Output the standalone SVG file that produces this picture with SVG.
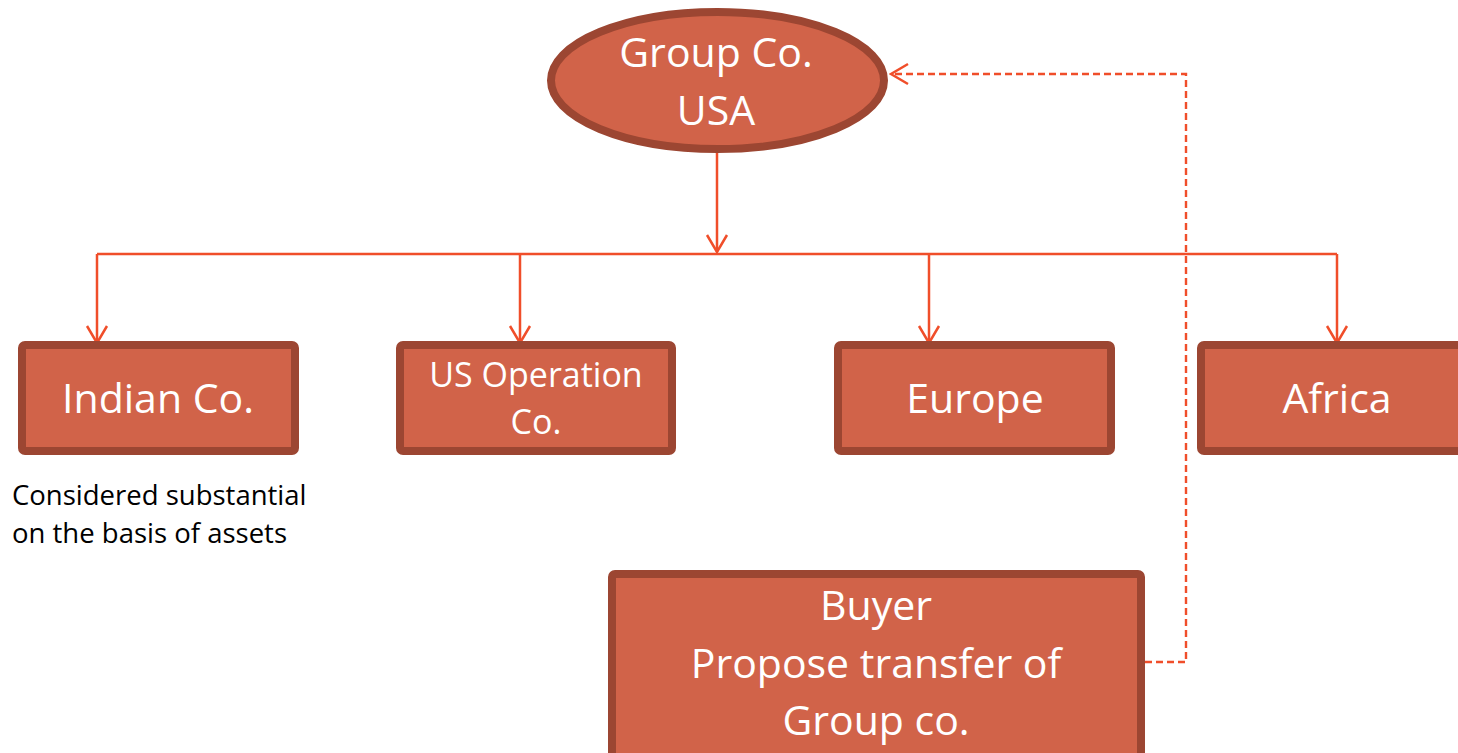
<svg xmlns="http://www.w3.org/2000/svg" width="1458" height="753" viewBox="0 0 1458 753">
<style>
.box{fill:#D16349;stroke:#9C4632;stroke-width:8}
.lbl{font-family:"Open Sans",sans-serif;fill:#fff;text-anchor:middle}
.con{fill:none;stroke:#F04E2A;stroke-width:2.5}
.dash{fill:none;stroke:#F04E2A;stroke-width:2.4;stroke-dasharray:7 4}
.note{font-family:"Open Sans",sans-serif;fill:#000;font-size:27.5px}
</style>
<defs>
<marker id="arr" markerUnits="userSpaceOnUse" viewBox="-20 -12 22 24" markerWidth="22" markerHeight="24" refX="0" refY="0" orient="auto">
<path d="M-17,-10 L0,0 L-17,10" fill="none" stroke="#F04E2A" stroke-width="2.5"/>
</marker>
</defs>
<rect width="1458" height="753" fill="#fff"/>
<g id="connectors">
<path class="con" d="M717,153 V252" marker-end="url(#arr)"/>
<path class="con" d="M97,254 H1337"/>
<path class="con" d="M97,254 V343" marker-end="url(#arr)"/>
<path class="con" d="M520,254 V343" marker-end="url(#arr)"/>
<path class="con" d="M929,254 V343" marker-end="url(#arr)"/>
<path class="con" d="M1337,254 V343" marker-end="url(#arr)"/>
<path class="dash" d="M1145,662 H1186 V74 H891" marker-end="url(#arr)"/>
</g>
<g id="group-co">
<ellipse class="box" cx="717.5" cy="80.5" rx="166.5" ry="68.5"/>
<text class="lbl" font-size="41" x="716" y="67">Group Co.</text>
<text class="lbl" font-size="41" x="716" y="125">USA</text>
</g>
<g id="indian-co">
<rect class="box" x="22" y="345" width="273" height="106" rx="3"/>
<text class="lbl" font-size="41" x="158" y="413">Indian Co.</text>
</g>
<g id="us-operation">
<rect class="box" x="400" y="345" width="272" height="106" rx="3"/>
<text class="lbl" font-size="34" x="536" y="387">US Operation</text>
<text class="lbl" font-size="34" x="536" y="434">Co.</text>
</g>
<g id="europe">
<rect class="box" x="838" y="345" width="273" height="106" rx="3"/>
<text class="lbl" font-size="41" x="975" y="413">Europe</text>
</g>
<g id="africa">
<rect class="box" x="1201" y="345" width="273" height="106" rx="3"/>
<text class="lbl" font-size="41" x="1337" y="413">Africa</text>
</g>
<g id="buyer">
<rect class="box" x="612" y="574" width="529" height="200" rx="3"/>
<text class="lbl" font-size="41" x="876" y="620">Buyer</text>
<text class="lbl" font-size="41" x="876" y="678">Propose transfer of</text>
<text class="lbl" font-size="41" x="876" y="735">Group co.</text>
</g>
<g id="note">
<text class="note" x="12" y="505">Considered substantial</text>
<text class="note" x="12" y="543">on the basis of assets</text>
</g>
</svg>
